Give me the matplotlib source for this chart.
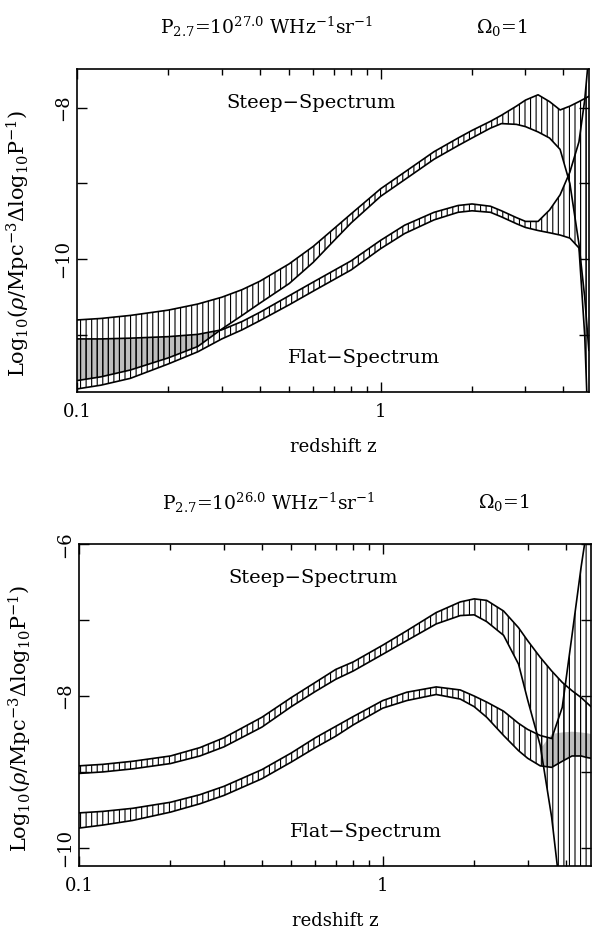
import matplotlib
matplotlib.use('Agg')
import matplotlib.pyplot as plt
from matplotlib.ticker import MultipleLocator, FixedLocator, NullFormatter, FixedFormatter

plt.rcParams['font.family'] = 'DejaVu Serif'
plt.rcParams['mathtext.fontset'] = 'dejavuserif'
plt.rcParams['hatch.linewidth'] = 0.8

# ---- upper panel: P = 10^27 ----
z_top = [0.1, 0.12, 0.15, 0.2, 0.25, 0.3, 0.35, 0.4, 0.5, 0.6, 0.7, 0.8, 1.0, 1.2,
         1.5, 1.8, 2.0, 2.3, 2.5, 2.8, 3.0, 3.3, 3.6, 3.9, 4.2, 4.5, 4.7, 4.85]
steep_hi_top = [-10.80, -10.78, -10.74, -10.67, -10.59, -10.50, -10.40, -10.29, -10.06, -9.83,
                -9.60, -9.40, -9.07, -8.85, -8.58, -8.40, -8.30, -8.18, -8.10, -7.98,
                -7.90, -7.83, -7.92, -8.03, -7.98, -7.92, -7.88, -7.85]
steep_lo_top = [-11.60, -11.55, -11.46, -11.30, -11.15, -10.92, -10.74, -10.58, -10.32, -10.04,
                -9.76, -9.52, -9.17, -8.95, -8.68, -8.50, -8.40, -8.27, -8.21, -8.22,
                -8.25, -8.32, -8.40, -8.55, -9.00, -9.80, -10.5, -11.2]
flat_hi_top = [-11.05, -11.05, -11.04, -11.02, -10.99, -10.93, -10.82, -10.70, -10.48, -10.30,
               -10.15, -10.02, -9.75, -9.55, -9.38, -9.29, -9.27, -9.30, -9.36, -9.45,
               -9.50, -9.50, -9.35, -9.15, -8.85, -8.45, -7.90, -7.30]
flat_lo_top = [-11.71, -11.66, -11.57, -11.38, -11.22, -11.05, -10.93, -10.81, -10.60, -10.42,
               -10.27, -10.14, -9.86, -9.66, -9.48, -9.38, -9.36, -9.38, -9.44, -9.53,
               -9.58, -9.62, -9.65, -9.68, -9.72, -9.85, -11.0, -12.5]
grey_z_top = [0.1, 0.12, 0.15, 0.2, 0.25, 0.29]
grey_lo_top = [-11.60, -11.55, -11.46, -11.30, -11.15, -10.95]
grey_hi_top = [-11.05, -11.05, -11.04, -11.02, -10.99, -10.95]

# ---- lower panel: P = 10^26 ----
z_bot = [0.1, 0.12, 0.15, 0.2, 0.25, 0.3, 0.4, 0.5, 0.6, 0.7, 0.8, 1.0, 1.2, 1.5,
         1.8, 2.0, 2.2, 2.5, 2.8, 3.0, 3.3, 3.6, 3.9, 4.2, 4.5, 4.7, 4.85]
steep_hi_bot = [-8.92, -8.90, -8.86, -8.79, -8.68, -8.55, -8.28, -8.02, -7.82, -7.65,
                -7.55, -7.33, -7.14, -6.90, -6.76, -6.72, -6.74, -6.88, -7.10, -7.27,
                -7.49, -7.67, -7.82, -7.93, -8.02, -8.09, -8.14]
steep_lo_bot = [-9.02, -9.00, -8.96, -8.89, -8.79, -8.67, -8.41, -8.14, -7.94, -7.78,
                -7.67, -7.45, -7.27, -7.05, -6.94, -6.93, -7.02, -7.20, -7.58, -8.05,
                -8.65, -9.60, -10.8, -12.0, -13.0, -13.5, -14.0]
flat_hi_bot = [-9.54, -9.52, -9.48, -9.40, -9.30, -9.19, -8.97, -8.75, -8.55, -8.40,
               -8.27, -8.06, -7.95, -7.88, -7.92, -8.00, -8.08, -8.20, -8.36, -8.44,
               -8.52, -8.56, -8.15, -7.20, -6.30, -5.80, -5.50]
flat_lo_bot = [-9.74, -9.70, -9.64, -9.53, -9.42, -9.31, -9.09, -8.87, -8.68, -8.53,
               -8.38, -8.16, -8.06, -7.98, -8.04, -8.14, -8.28, -8.52, -8.72, -8.82,
               -8.92, -8.94, -8.86, -8.79, -8.79, -8.81, -8.82]
grey_z_bot = [3.3, 3.6, 3.9, 4.2, 4.5, 4.7, 4.85]
grey_lo_bot = [-8.92, -8.94, -8.86, -8.79, -8.79, -8.81, -8.82]
grey_hi_bot = [-8.70, -8.50, -8.48, -8.47, -8.48, -8.49, -8.50]

xticks_major = [0.1, 1]
xtick_labels = ['0.1', '1']


def draw_panel(ax, z, bands, grey, ylim, title_p):
    gz, glo, ghi = grey
    ax.fill_between(gz, glo, ghi, facecolor='#bdbdbd', linewidth=0)
    for lo, hi in bands:
        ax.fill_between(z, lo, hi, facecolor='none', edgecolor='black',
                        hatch='|||', linewidth=0)
        ax.plot(z, lo, color='black', lw=1.2)
        ax.plot(z, hi, color='black', lw=1.2)

    ax.set_xscale('log')
    ax.set_xlim(0.1, 4.85)
    ax.set_ylim(*ylim)
    ax.xaxis.set_major_locator(FixedLocator(xticks_major))
    ax.xaxis.set_major_formatter(FixedFormatter(xtick_labels))
    ax.xaxis.set_minor_locator(FixedLocator([0.2, 0.3, 0.4, 0.5, 0.6, 0.7, 0.8, 0.9, 2, 3, 4]))
    ax.xaxis.set_minor_formatter(NullFormatter())
    ax.yaxis.set_major_locator(MultipleLocator(2))
    ax.yaxis.set_minor_locator(MultipleLocator(1))
    ax.tick_params(which='both', direction='in', top=True, right=True, labelsize=13, width=1)
    ax.tick_params(which='major', length=7)
    ax.tick_params(axis='x', which='minor', length=4)
    ax.tick_params(axis='y', which='minor', length=7)
    ax.tick_params(axis='x', pad=8)
    for lab in ax.get_yticklabels():
        lab.set_rotation(90)
        lab.set_va('center')
    for sp in ax.spines.values():
        sp.set_linewidth(1.2)

    ax.set_xlabel('redshift z', fontsize=13, labelpad=12)
    ax.set_ylabel(r'Log$_{10}$($\rho$/Mpc$^{-3}\Delta$log$_{10}$P$^{-1}$)', fontsize=15)
    ax.yaxis.set_label_coords(-0.088, 0.46)
    ax.text(0.457, 0.895, 'Steep\u2212Spectrum', transform=ax.transAxes,
            ha='center', va='center', fontsize=14)
    ax.text(0.56, 0.105, 'Flat\u2212Spectrum', transform=ax.transAxes,
            ha='center', va='center', fontsize=14)
    ax.text(0.37, 1.13, r'P$_{2.7}$=10$^{%s}$ WHz$^{-1}$sr$^{-1}$' % title_p,
            transform=ax.transAxes, ha='center', va='center', fontsize=13.5)
    ax.text(0.83, 1.13, r'$\Omega_0$=1', transform=ax.transAxes,
            ha='center', va='center', fontsize=13.5)


fig = plt.figure(figsize=(5.96, 9.30), dpi=100)
ax1 = fig.add_axes([0.129, 0.5785, 0.859, 0.3473])
ax2 = fig.add_axes([0.1326, 0.0688, 0.859, 0.346])

draw_panel(ax1, z_top, [(steep_lo_top, steep_hi_top), (flat_lo_top, flat_hi_top)],
           (grey_z_top, grey_lo_top, grey_hi_top), (-11.75, -7.49), '27.0')
draw_panel(ax2, z_bot, [(steep_lo_bot, steep_hi_bot), (flat_lo_bot, flat_hi_bot)],
           (grey_z_bot, grey_lo_bot, grey_hi_bot), (-10.24, -6.0), '26.0')

fig.savefig('out.png', dpi=100)
